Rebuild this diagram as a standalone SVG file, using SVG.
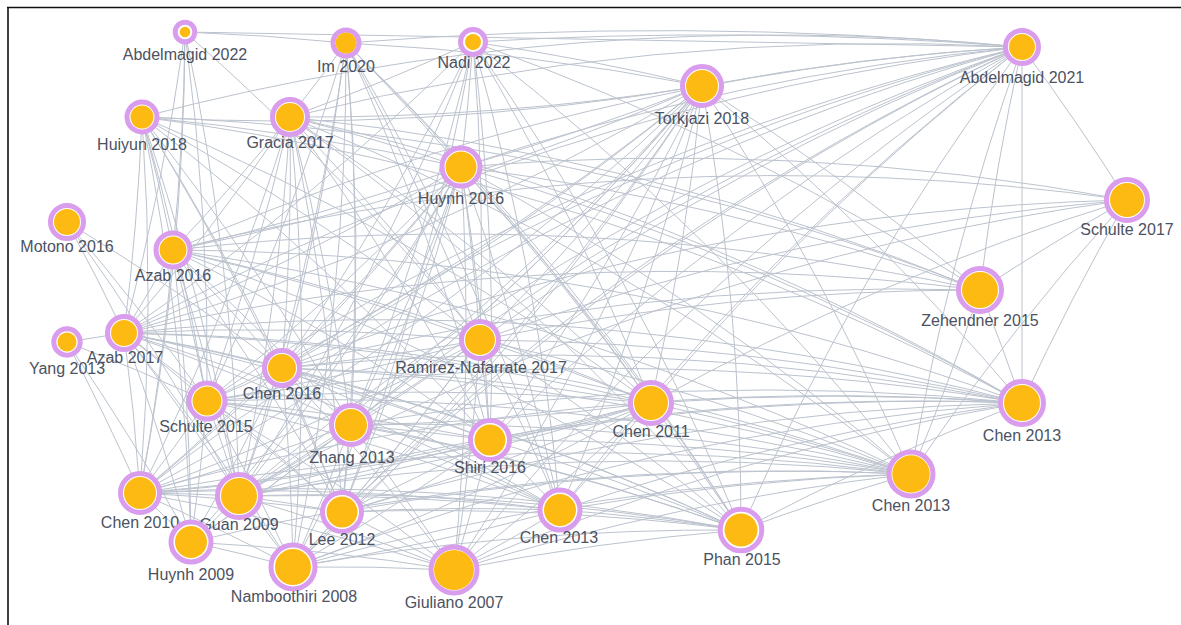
<svg xmlns="http://www.w3.org/2000/svg" width="1181" height="625" viewBox="0 0 1181 625">
<style>
.e path{fill:none;stroke:#bcc3ce;stroke-width:1}
.ring{fill:#fff;stroke:#da9cec;stroke-width:5}
.core{fill:#fdba12}
text{font-family:"Liberation Sans",Arial,sans-serif;font-size:16px;fill:#4b5262;text-anchor:middle}
</style>
<rect width="1181" height="625" fill="#fff"/>
<g id="frame" stroke="#111" stroke-width="1.6"><line x1="7" y1="7.5" x2="1181" y2="7.5"/><line x1="8" y1="7" x2="8" y2="625"/></g>
<g id="connectors" class="e">
<path d="M185 32A2500 2500 0 0 1 346 43"/><path d="M185 32L1022 47"/><path d="M185 32A2500 2500 0 0 1 173 250"/><path d="M185 32A2500 2500 0 0 1 124 333"/><path d="M185 32A2500 2500 0 0 1 207 401"/><path d="M185 32A2500 2500 0 0 1 140 493"/><path d="M185 32A2500 2500 0 0 1 480 340"/><path d="M185 32A2500 2500 0 0 1 239 496"/>
<path d="M346 43A4000 4000 0 0 1 1022 47"/><path d="M346 43A2500 2500 0 0 1 702 86"/><path d="M346 43A2500 2500 0 0 1 290 117"/><path d="M346 43A2500 2500 0 0 1 461 167"/><path d="M346 43A2500 2500 0 0 1 282 368"/><path d="M346 43A2500 2500 0 0 1 351 425"/><path d="M346 43A2500 2500 0 0 1 342 512"/><path d="M346 43A2500 2500 0 0 1 239 496"/><path d="M346 43A2500 2500 0 0 1 490 440"/><path d="M346 43A2500 2500 0 0 1 560 510"/><path d="M346 43A2500 2500 0 0 1 480 340"/><path d="M346 43A2500 2500 0 0 1 651 403"/><path d="M346 43A2500 2500 0 0 1 741 530"/><path d="M346 43A2500 2500 0 0 1 293 567"/><path d="M346 43A2500 2500 0 0 1 207 401"/>
<path d="M473 42A4000 4000 0 0 1 1022 47"/><path d="M473 42A2500 2500 0 0 1 461 167"/><path d="M473 42A2500 2500 0 0 1 290 117"/><path d="M473 42A2500 2500 0 0 1 282 368"/><path d="M473 42A2500 2500 0 0 1 351 425"/><path d="M473 42A2500 2500 0 0 1 490 440"/><path d="M473 42A2500 2500 0 0 1 560 510"/><path d="M473 42A2500 2500 0 0 1 651 403"/><path d="M473 42A2500 2500 0 0 1 741 530"/><path d="M473 42A2500 2500 0 0 1 911 474"/><path d="M473 42A2500 2500 0 0 1 980 290"/><path d="M473 42A2500 2500 0 0 1 342 512"/><path d="M473 42A2500 2500 0 0 1 239 496"/><path d="M473 42A2500 2500 0 0 1 480 340"/><path d="M473 42A2500 2500 0 0 1 702 86"/><path d="M473 42A2500 2500 0 0 1 124 333"/>
<path d="M702 86A2500 2500 0 0 1 1022 47"/><path d="M702 86A2500 2500 0 0 1 461 167"/><path d="M702 86A2500 2500 0 0 1 290 117"/><path d="M702 86A2500 2500 0 0 1 142 117"/><path d="M702 86A2500 2500 0 0 1 173 250"/><path d="M702 86A2500 2500 0 0 1 124 333"/><path d="M702 86A2500 2500 0 0 1 282 368"/><path d="M702 86A2500 2500 0 0 1 207 401"/><path d="M702 86A2500 2500 0 0 1 140 493"/><path d="M702 86A2500 2500 0 0 1 239 496"/><path d="M702 86A2500 2500 0 0 1 351 425"/><path d="M702 86A2500 2500 0 0 1 342 512"/><path d="M702 86A2500 2500 0 0 1 293 567"/><path d="M702 86A2500 2500 0 0 1 454 570"/><path d="M702 86A2500 2500 0 0 1 490 440"/><path d="M702 86A2500 2500 0 0 1 560 510"/><path d="M702 86A2500 2500 0 0 1 651 403"/><path d="M702 86A2500 2500 0 0 1 741 530"/><path d="M702 86A2500 2500 0 0 1 911 474"/><path d="M702 86A2500 2500 0 0 1 1022 403"/><path d="M702 86A2500 2500 0 0 1 980 290"/><path d="M702 86A2500 2500 0 0 1 480 340"/><path d="M702 86A2500 2500 0 0 1 191 542"/>
<path d="M1022 47A2500 2500 0 0 0 142 117"/><path d="M1022 47A2500 2500 0 0 0 290 117"/><path d="M1022 47A2500 2500 0 0 0 461 167"/><path d="M1022 47A2500 2500 0 0 0 173 250"/><path d="M1022 47A2500 2500 0 0 0 124 333"/><path d="M1022 47A2500 2500 0 0 0 282 368"/><path d="M1022 47A2500 2500 0 0 0 480 340"/><path d="M1022 47A2500 2500 0 0 0 351 425"/><path d="M1022 47A2500 2500 0 0 0 140 493"/><path d="M1022 47A2500 2500 0 0 0 239 496"/><path d="M1022 47A2500 2500 0 0 0 207 401"/><path d="M1022 47A2500 2500 0 0 0 342 512"/><path d="M1022 47A2500 2500 0 0 0 293 567"/><path d="M1022 47A2500 2500 0 0 0 454 570"/><path d="M1022 47A2500 2500 0 0 0 560 510"/><path d="M1022 47A2500 2500 0 0 0 490 440"/><path d="M1022 47A2500 2500 0 0 0 651 403"/><path d="M1022 47A2500 2500 0 0 0 741 530"/><path d="M1022 47A2500 2500 0 0 0 980 290"/><path d="M1022 47L1022 403"/><path d="M1022 47A2500 2500 0 0 0 911 474"/><path d="M1022 47A2500 2500 0 0 1 1127 200"/>
<path d="M142 117A2500 2500 0 0 1 173 250"/><path d="M142 117A2500 2500 0 0 1 124 333"/><path d="M142 117A2500 2500 0 0 1 140 493"/><path d="M142 117A2500 2500 0 0 1 207 401"/><path d="M142 117A2500 2500 0 0 1 239 496"/><path d="M142 117A2500 2500 0 0 1 191 542"/><path d="M142 117A2500 2500 0 0 1 282 368"/><path d="M142 117A2500 2500 0 0 1 351 425"/><path d="M142 117A2500 2500 0 0 1 480 340"/><path d="M142 117A2500 2500 0 0 1 651 403"/><path d="M142 117A2500 2500 0 0 1 980 290"/><path d="M142 117A2500 2500 0 0 1 1022 403"/><path d="M142 117A2500 2500 0 0 1 461 167"/><path d="M142 117A2500 2500 0 0 1 490 440"/><path d="M142 117A2500 2500 0 0 1 342 512"/>
<path d="M290 117A2500 2500 0 0 1 173 250"/><path d="M290 117A2500 2500 0 0 1 124 333"/><path d="M290 117A2500 2500 0 0 1 282 368"/><path d="M290 117A2500 2500 0 0 1 207 401"/><path d="M290 117A2500 2500 0 0 1 140 493"/><path d="M290 117A2500 2500 0 0 1 239 496"/><path d="M290 117A2500 2500 0 0 1 351 425"/><path d="M290 117A2500 2500 0 0 1 342 512"/><path d="M290 117A2500 2500 0 0 1 293 567"/><path d="M290 117A2500 2500 0 0 1 461 167"/><path d="M290 117A2500 2500 0 0 1 480 340"/><path d="M290 117A2500 2500 0 0 1 651 403"/><path d="M290 117A2500 2500 0 0 1 490 440"/><path d="M290 117A2500 2500 0 0 1 980 290"/><path d="M290 117A2500 2500 0 0 1 1022 403"/><path d="M290 117A2500 2500 0 0 1 911 474"/><path d="M290 117A2500 2500 0 0 1 741 530"/>
<path d="M461 167A2500 2500 0 0 1 124 333"/><path d="M461 167A2500 2500 0 0 1 282 368"/><path d="M461 167A2500 2500 0 0 1 207 401"/><path d="M461 167A2500 2500 0 0 1 140 493"/><path d="M461 167A2500 2500 0 0 1 239 496"/><path d="M461 167A2500 2500 0 0 1 351 425"/><path d="M461 167A2500 2500 0 0 1 342 512"/><path d="M461 167A2500 2500 0 0 1 293 567"/><path d="M461 167A2500 2500 0 0 1 454 570"/><path d="M461 167A2500 2500 0 0 1 490 440"/><path d="M461 167A2500 2500 0 0 1 560 510"/><path d="M461 167A2500 2500 0 0 1 480 340"/><path d="M461 167A2500 2500 0 0 1 651 403"/><path d="M461 167A2500 2500 0 0 1 741 530"/><path d="M461 167A2500 2500 0 0 1 980 290"/><path d="M461 167A2500 2500 0 0 1 911 474"/><path d="M461 167A2500 2500 0 0 1 1022 403"/><path d="M461 167A2500 2500 0 0 1 173 250"/><path d="M461 167A2500 2500 0 0 1 191 542"/>
<path d="M1127 200A2500 2500 0 0 0 980 290"/><path d="M1127 200A2500 2500 0 0 0 1022 403"/><path d="M1127 200A2500 2500 0 0 0 911 474"/><path d="M1127 200A2500 2500 0 0 0 480 340"/><path d="M1127 200A2500 2500 0 0 0 651 403"/><path d="M1127 200A2500 2500 0 0 0 461 167"/><path d="M1127 200A2500 2500 0 0 0 173 250"/><path d="M1127 200A2500 2500 0 0 0 282 368"/><path d="M1127 200A2500 2500 0 0 0 239 496"/>
<path d="M67 222A2500 2500 0 0 1 124 333"/><path d="M67 222A2500 2500 0 0 1 207 401"/><path d="M67 222A2500 2500 0 0 1 282 368"/><path d="M67 222A2500 2500 0 0 1 239 496"/>
<path d="M173 250A2500 2500 0 0 1 980 290"/><path d="M173 250A2500 2500 0 0 1 1022 403"/><path d="M173 250A2500 2500 0 0 1 911 474"/><path d="M173 250A2500 2500 0 0 1 651 403"/><path d="M173 250A2500 2500 0 0 1 480 340"/><path d="M173 250A2500 2500 0 0 1 282 368"/><path d="M173 250A2500 2500 0 0 1 207 401"/><path d="M173 250A2500 2500 0 0 1 239 496"/><path d="M173 250A2500 2500 0 0 1 140 493"/><path d="M173 250A2500 2500 0 0 1 351 425"/><path d="M173 250A2500 2500 0 0 1 342 512"/><path d="M173 250A2500 2500 0 0 1 741 530"/><path d="M173 250A2500 2500 0 0 1 490 440"/><path d="M173 250A2500 2500 0 0 1 124 333"/><path d="M173 250A2500 2500 0 0 1 191 542"/>
<path d="M67 342L124 333"/><path d="M67 342A2500 2500 0 0 1 140 493"/><path d="M67 342A2500 2500 0 0 1 191 542"/><path d="M67 342A2500 2500 0 0 1 207 401"/>
<path d="M124 333A2500 2500 0 0 1 480 340"/><path d="M124 333A2500 2500 0 0 1 282 368"/><path d="M124 333A2500 2500 0 0 1 651 403"/><path d="M124 333A2500 2500 0 0 1 980 290"/><path d="M124 333A2500 2500 0 0 1 1022 403"/><path d="M124 333A2500 2500 0 0 1 911 474"/><path d="M124 333A2500 2500 0 0 1 207 401"/><path d="M124 333A2500 2500 0 0 1 140 493"/><path d="M124 333A2500 2500 0 0 1 239 496"/><path d="M124 333A2500 2500 0 0 1 191 542"/><path d="M124 333A2500 2500 0 0 1 351 425"/><path d="M124 333A2500 2500 0 0 1 490 440"/><path d="M124 333A2500 2500 0 0 1 741 530"/><path d="M124 333A2500 2500 0 0 1 342 512"/><path d="M124 333A2500 2500 0 0 1 560 510"/><path d="M124 333A2500 2500 0 0 1 293 567"/>
<path d="M480 340A2500 2500 0 0 1 282 368"/><path d="M480 340A2500 2500 0 0 1 351 425"/><path d="M480 340A2500 2500 0 0 1 490 440"/><path d="M480 340A2500 2500 0 0 1 651 403"/><path d="M480 340A2500 2500 0 0 1 560 510"/><path d="M480 340A2500 2500 0 0 1 741 530"/><path d="M480 340A2500 2500 0 0 1 911 474"/><path d="M480 340A2500 2500 0 0 1 1022 403"/><path d="M480 340A2500 2500 0 0 1 980 290"/><path d="M480 340A2500 2500 0 0 1 239 496"/><path d="M480 340A2500 2500 0 0 1 140 493"/><path d="M480 340A2500 2500 0 0 1 342 512"/><path d="M480 340A2500 2500 0 0 1 454 570"/><path d="M480 340A2500 2500 0 0 1 293 567"/><path d="M480 340A2500 2500 0 0 1 207 401"/>
<path d="M282 368A2500 2500 0 0 1 207 401"/><path d="M282 368A2500 2500 0 0 1 351 425"/><path d="M282 368A2500 2500 0 0 1 140 493"/><path d="M282 368A2500 2500 0 0 1 239 496"/><path d="M282 368A2500 2500 0 0 1 342 512"/><path d="M282 368A2500 2500 0 0 1 293 567"/><path d="M282 368A2500 2500 0 0 1 454 570"/><path d="M282 368A2500 2500 0 0 1 490 440"/><path d="M282 368A2500 2500 0 0 1 651 403"/><path d="M282 368A2500 2500 0 0 1 560 510"/><path d="M282 368A2500 2500 0 0 1 741 530"/><path d="M282 368A2500 2500 0 0 1 911 474"/><path d="M282 368A2500 2500 0 0 1 1022 403"/><path d="M282 368A2500 2500 0 0 1 980 290"/><path d="M282 368A2500 2500 0 0 1 191 542"/>
<path d="M207 401A2500 2500 0 0 1 140 493"/><path d="M207 401A2500 2500 0 0 1 239 496"/><path d="M207 401A2500 2500 0 0 1 191 542"/><path d="M207 401A2500 2500 0 0 1 351 425"/><path d="M207 401A2500 2500 0 0 1 342 512"/><path d="M207 401A2500 2500 0 0 1 293 567"/><path d="M207 401A2500 2500 0 0 1 454 570"/><path d="M207 401A2500 2500 0 0 1 490 440"/><path d="M207 401A2500 2500 0 0 1 651 403"/><path d="M207 401A2500 2500 0 0 1 560 510"/><path d="M207 401A2500 2500 0 0 1 741 530"/><path d="M207 401A2500 2500 0 0 1 911 474"/><path d="M207 401A2500 2500 0 0 1 1022 403"/>
<path d="M1022 403A2500 2500 0 0 0 651 403"/><path d="M1022 403A2500 2500 0 0 0 490 440"/><path d="M1022 403A2500 2500 0 0 0 351 425"/><path d="M1022 403A2500 2500 0 0 0 239 496"/><path d="M1022 403A2500 2500 0 0 0 140 493"/><path d="M1022 403A2500 2500 0 0 0 342 512"/><path d="M1022 403A2500 2500 0 0 0 560 510"/><path d="M1022 403A2500 2500 0 0 0 741 530"/><path d="M1022 403A2500 2500 0 0 0 454 570"/><path d="M1022 403A2500 2500 0 0 0 293 567"/><path d="M1022 403A2500 2500 0 0 0 980 290"/>
<path d="M651 403A2500 2500 0 0 1 911 474"/><path d="M651 403A2500 2500 0 0 1 741 530"/><path d="M651 403A2500 2500 0 0 1 560 510"/><path d="M651 403A2500 2500 0 0 1 454 570"/><path d="M651 403A2500 2500 0 0 1 490 440"/><path d="M651 403A2500 2500 0 0 1 351 425"/><path d="M651 403A2500 2500 0 0 1 239 496"/><path d="M651 403A2500 2500 0 0 1 140 493"/><path d="M651 403A2500 2500 0 0 1 342 512"/><path d="M651 403A2500 2500 0 0 1 293 567"/>
<path d="M351 425A2500 2500 0 0 1 490 440"/><path d="M351 425A2500 2500 0 0 1 239 496"/><path d="M351 425A2500 2500 0 0 1 140 493"/><path d="M351 425A2500 2500 0 0 1 342 512"/><path d="M351 425A2500 2500 0 0 1 293 567"/><path d="M351 425A2500 2500 0 0 1 454 570"/><path d="M351 425A2500 2500 0 0 1 560 510"/><path d="M351 425A2500 2500 0 0 1 741 530"/><path d="M351 425A2500 2500 0 0 1 911 474"/><path d="M351 425A2500 2500 0 0 1 191 542"/>
<path d="M490 440A2500 2500 0 0 1 560 510"/><path d="M490 440A2500 2500 0 0 1 454 570"/><path d="M490 440A2500 2500 0 0 1 741 530"/><path d="M490 440A2500 2500 0 0 1 911 474"/><path d="M490 440A2500 2500 0 0 1 239 496"/><path d="M490 440A2500 2500 0 0 1 342 512"/><path d="M490 440A2500 2500 0 0 1 293 567"/><path d="M490 440A2500 2500 0 0 1 140 493"/>
<path d="M911 474A2500 2500 0 0 0 239 496"/><path d="M911 474A2500 2500 0 0 0 140 493"/><path d="M911 474A2500 2500 0 0 0 342 512"/><path d="M911 474A2500 2500 0 0 0 293 567"/><path d="M911 474A2500 2500 0 0 0 454 570"/><path d="M911 474A2500 2500 0 0 0 560 510"/><path d="M911 474A2500 2500 0 0 0 741 530"/><path d="M911 474A2500 2500 0 0 0 191 542"/><path d="M911 474A2500 2500 0 0 0 980 290"/>
<path d="M140 493A2500 2500 0 0 1 239 496"/><path d="M140 493A2500 2500 0 0 1 191 542"/><path d="M140 493A2500 2500 0 0 1 293 567"/><path d="M140 493A2500 2500 0 0 1 342 512"/><path d="M140 493A2500 2500 0 0 1 454 570"/><path d="M140 493A2500 2500 0 0 1 560 510"/><path d="M140 493A2500 2500 0 0 1 741 530"/>
<path d="M239 496A2500 2500 0 0 1 191 542"/><path d="M239 496A2500 2500 0 0 1 293 567"/><path d="M239 496A2500 2500 0 0 1 342 512"/><path d="M239 496A2500 2500 0 0 1 454 570"/><path d="M239 496A2500 2500 0 0 1 560 510"/><path d="M239 496A2500 2500 0 0 1 741 530"/>
<path d="M342 512A2500 2500 0 0 1 293 567"/><path d="M342 512A2500 2500 0 0 1 454 570"/><path d="M342 512A2500 2500 0 0 1 560 510"/><path d="M342 512A2500 2500 0 0 1 741 530"/>
<path d="M560 510A2500 2500 0 0 1 454 570"/><path d="M560 510A2500 2500 0 0 1 741 530"/><path d="M560 510A2500 2500 0 0 1 293 567"/>
<path d="M741 530A2500 2500 0 0 0 454 570"/><path d="M741 530A2500 2500 0 0 0 293 567"/>
<path d="M191 542A2500 2500 0 0 1 293 567"/><path d="M191 542A2500 2500 0 0 1 454 570"/>
<path d="M293 567A2500 2500 0 0 1 454 570"/>
</g>
<g id="n-abdelmagid2022"><circle class="ring" cx="185" cy="32" r="9.8"/><circle class="core" cx="185" cy="32" r="5.3"/><text x="185" y="60">Abdelmagid 2022</text></g>
<g id="n-im2020"><circle class="ring" cx="346" cy="43" r="13"/><circle class="core" cx="346" cy="43" r="10.5"/><text x="346" y="72">Im 2020</text></g>
<g id="n-nadi2022"><circle class="ring" cx="473" cy="42" r="12.5"/><circle class="core" cx="473" cy="42" r="8"/><text x="474" y="68">Nadi 2022</text></g>
<g id="n-torkjazi2018"><circle class="ring" cx="702" cy="86" r="19.5"/><circle class="core" cx="702" cy="86" r="16"/><text x="702" y="124">Torkjazi 2018</text></g>
<g id="n-abdelmagid2021"><circle class="ring" cx="1022" cy="47" r="16.5"/><circle class="core" cx="1022" cy="47" r="13"/><text x="1022" y="83">Abdelmagid 2021</text></g>
<g id="n-huiyun2018"><circle class="ring" cx="142" cy="117" r="15"/><circle class="core" cx="142" cy="117" r="11.5"/><text x="142" y="150">Huiyun 2018</text></g>
<g id="n-gracia2017"><circle class="ring" cx="290" cy="117" r="17.5"/><circle class="core" cx="290" cy="117" r="14"/><text x="290" y="148">Gracia 2017</text></g>
<g id="n-huynh2016"><circle class="ring" cx="461" cy="167" r="19"/><circle class="core" cx="461" cy="167" r="15.5"/><text x="461" y="204">Huynh 2016</text></g>
<g id="n-schulte2017"><circle class="ring" cx="1127" cy="200" r="20.5"/><circle class="core" cx="1127" cy="200" r="17"/><text x="1127" y="235">Schulte 2017</text></g>
<g id="n-motono2016"><circle class="ring" cx="67" cy="222" r="16.5"/><circle class="core" cx="67" cy="222" r="13"/><text x="67" y="252">Motono 2016</text></g>
<g id="n-azab2016"><circle class="ring" cx="173" cy="250" r="17"/><circle class="core" cx="173" cy="250" r="13.5"/><text x="173" y="281">Azab 2016</text></g>
<g id="n-zehendner2015"><circle class="ring" cx="980" cy="290" r="21.5"/><circle class="core" cx="980" cy="290" r="18"/><text x="980" y="326">Zehendner 2015</text></g>
<g id="n-yang2013"><circle class="ring" cx="67" cy="342" r="13.2"/><circle class="core" cx="67" cy="342" r="9.5"/><text x="67" y="374">Yang 2013</text></g>
<g id="n-azab2017"><circle class="ring" cx="124" cy="333" r="16.5"/><circle class="core" cx="124" cy="333" r="13"/><text x="125" y="363">Azab 2017</text></g>
<g id="n-ramirez2017"><circle class="ring" cx="480" cy="340" r="18.5"/><circle class="core" cx="480" cy="340" r="15"/><text x="481" y="373">Ramirez-Nafarrate 2017</text></g>
<g id="n-chen2016"><circle class="ring" cx="282" cy="368" r="17.5"/><circle class="core" cx="282" cy="368" r="14"/><text x="282" y="399">Chen 2016</text></g>
<g id="n-chen2013r"><circle class="ring" cx="1022" cy="403" r="21.5"/><circle class="core" cx="1022" cy="403" r="18"/><text x="1022" y="441">Chen 2013</text></g>
<g id="n-schulte2015"><circle class="ring" cx="207" cy="401" r="18"/><circle class="core" cx="207" cy="401" r="14.5"/><text x="206" y="432">Schulte 2015</text></g>
<g id="n-chen2011"><circle class="ring" cx="651" cy="403" r="20.5"/><circle class="core" cx="651" cy="403" r="17"/><text x="651" y="437">Chen 2011</text></g>
<g id="n-zhang2013"><circle class="ring" cx="351" cy="425" r="19.5"/><circle class="core" cx="351" cy="425" r="16"/><text x="352" y="463">Zhang 2013</text></g>
<g id="n-shiri2016"><circle class="ring" cx="490" cy="440" r="19.5"/><circle class="core" cx="490" cy="440" r="15.5"/><text x="490" y="473">Shiri 2016</text></g>
<g id="n-chen2013b"><circle class="ring" cx="911" cy="474" r="22"/><circle class="core" cx="911" cy="474" r="18.8"/><text x="911" y="511">Chen 2013</text></g>
<g id="n-chen2010"><circle class="ring" cx="140" cy="493" r="19.5"/><circle class="core" cx="140" cy="493" r="16"/><text x="140" y="528">Chen 2010</text></g>
<g id="n-guan2009"><circle class="ring" cx="239" cy="496" r="21.5"/><circle class="core" cx="239" cy="496" r="18"/><text x="239" y="530">Guan 2009</text></g>
<g id="n-lee2012"><circle class="ring" cx="342" cy="512" r="19.5"/><circle class="core" cx="342" cy="512" r="15.5"/><text x="342" y="545">Lee 2012</text></g>
<g id="n-chen2013m"><circle class="ring" cx="560" cy="510" r="20"/><circle class="core" cx="560" cy="510" r="16"/><text x="559" y="543">Chen 2013</text></g>
<g id="n-phan2015"><circle class="ring" cx="741" cy="530" r="20.8"/><circle class="core" cx="741" cy="530" r="16.5"/><text x="742" y="565">Phan 2015</text></g>
<g id="n-huynh2009"><circle class="ring" cx="191" cy="542" r="20"/><circle class="core" cx="191" cy="542" r="16"/><text x="191" y="580">Huynh 2009</text></g>
<g id="n-namboothiri2008"><circle class="ring" cx="293" cy="567" r="22"/><circle class="core" cx="293" cy="567" r="18"/><text x="294" y="602">Namboothiri 2008</text></g>
<g id="n-giuliano2007"><circle class="ring" cx="454" cy="570" r="23"/><circle class="core" cx="454" cy="570" r="20"/><text x="454" y="608">Giuliano 2007</text></g>
</svg>
